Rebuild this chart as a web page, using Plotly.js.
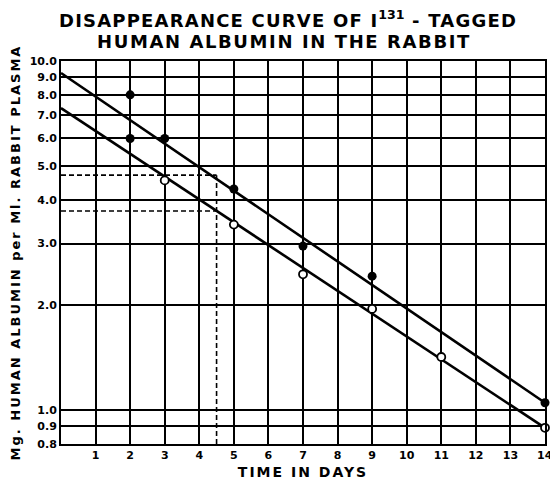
<!DOCTYPE html>
<html><head><meta charset="utf-8">
<script src="https://cdn.plot.ly/plotly-3.0.1.min.js"></script>
<style>body{margin:0;background:#fff}</style>
</head><body><div id="chart" style="width:550px;height:485px"></div>
<script>
// Data
var filledDays = [2, 2, 3, 5, 7, 9, 14];
var filledVals = [8.0, 6.0, 6.0, 4.3, 2.95, 2.42, 1.05];
var openDays = [3, 5, 7, 9, 11, 14];
var openVals = [4.55, 3.4, 2.45, 1.95, 1.42, 0.89];
var upperLineX = [0, 14];
var upperLineY = [9.24, 1.05];
var lowerLineX = [0, 14];
var lowerLineY = [7.33, 0.89];
var dashX = 4.5;
var dashHigh = 4.71;
var dashLow = 3.72;
var yTickVals = [0.8, 0.9, 1.0, 2.0, 3.0, 4.0, 5.0, 6.0, 7.0, 8.0, 9.0, 10.0];
var yTickText = ["0.8", "0.9", "1.0", "2.0", "3.0", "4.0", "5.0", "6.0", "7.0", "8.0", "9.0", "10.0"];
var xTickVals = [1, 2, 3, 4, 5, 6, 7, 8, 9, 10, 11, 12, 13, 14];
var titleLine1 = ['DISAPPEARANCE CURVE OF I', '131', ' - TAGGED'];
var titleLine2 = 'HUMAN ALBUMIN IN THE RABBIT';

var F = "DejaVu Sans, Arial, sans-serif";
function sp(t, s) { return '<span style="letter-spacing:' + s + 'px">' + t + '</span>'; }

var traces = [
  {x: upperLineX, y: upperLineY, mode: 'lines', line: {color: '#000', width: 2.6}},
  {x: lowerLineX, y: lowerLineY, mode: 'lines', line: {color: '#000', width: 2.6}},
  {x: [0, dashX], y: [dashHigh, dashHigh], mode: 'lines', line: {color: '#000', width: 1.6, dash: '5px,3px'}},
  {x: [0, dashX], y: [dashLow, dashLow], mode: 'lines', line: {color: '#000', width: 1.6, dash: '5px,3px'}},
  {x: [dashX, dashX], y: [0.8, dashHigh], mode: 'lines', line: {color: '#000', width: 1.6, dash: '5px,3px'}},
  {x: filledDays, y: filledVals, mode: 'markers', marker: {color: '#000', size: 9, symbol: 'circle'}, cliponaxis: false},
  {x: openDays, y: openVals, mode: 'markers', marker: {color: '#fff', size: 8, symbol: 'circle', line: {color: '#000', width: 1.8}}, cliponaxis: false}
];

var tickFont = {family: F, size: 11, color: '#000', weight: 'bold'};
var titleFont = {family: F, size: 18, color: '#000', weight: 'bold'};
var lastX = xTickVals[xTickVals.length - 1];
var layout = {
  width: 550, height: 485,
  margin: {l: 61, r: 5, t: 61, b: 41},
  paper_bgcolor: '#fff', plot_bgcolor: '#fff',
  showlegend: false,
  annotations: [
    {text: sp(titleLine1[0], 1.2) + '<sup>' + titleLine1[1] + '</sup>' + sp(titleLine1[2], 1.2),
     xref: 'paper', yref: 'paper', x: 0.468, y: 1.11, xanchor: 'center', yanchor: 'middle',
     showarrow: false, font: titleFont},
    {text: sp(titleLine2, 1.6),
     xref: 'paper', yref: 'paper', x: 0.46, y: 1.052, xanchor: 'center', yanchor: 'middle',
     showarrow: false, font: titleFont},
    // last x tick label sits on the figure edge, where Plotly drops it; draw it here
    {text: String(lastX), xref: 'x', yref: 'paper', x: lastX, y: 0, yshift: -11,
     xanchor: 'center', yanchor: 'middle', showarrow: false, font: tickFont}
  ],
  xaxis: {
    range: [0, 14], tickvals: xTickVals, ticktext: xTickVals.map(String),
    showgrid: true, gridcolor: '#000', gridwidth: 2,
    showline: true, linecolor: '#000', linewidth: 2, mirror: true,
    zeroline: false, ticks: '', ticklen: 0,
    tickfont: tickFont,
    title: {text: sp('TIME IN DAYS', 2), font: {family: F, size: 14, color: '#000', weight: 'bold'}, standoff: 6}
  },
  yaxis: {
    type: 'log', range: [Math.log10(0.8), 1],
    tickvals: yTickVals, ticktext: yTickText,
    showgrid: true, gridcolor: '#000', gridwidth: 2,
    showline: true, linecolor: '#000', linewidth: 2, mirror: true,
    zeroline: false, ticks: '', ticklen: 0,
    tickfont: tickFont,
    title: {text: sp('Mg. HUMAN ALBUMIN per Ml. RABBIT PLASMA', 2), font: {family: F, size: 13, color: '#000', weight: 'bold'}, standoff: 6}
  }
};
Plotly.newPlot('chart', traces, layout, {displayModeBar: false, staticPlot: true});
</script></body></html>
